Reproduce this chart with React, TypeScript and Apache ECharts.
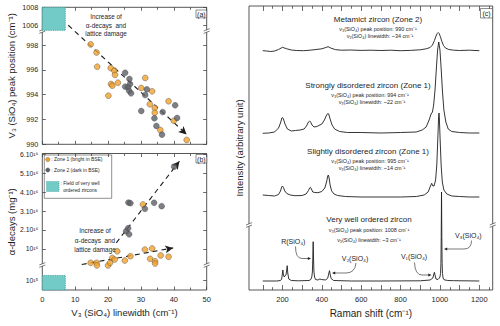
import React, { useEffect, useRef } from 'react';
import * as echarts from 'echarts';

const FONT = '"Liberation Sans", Arial, Helvetica, sans-serif';
const INK = '#1e1e1e';
const FRAME = '#444';
const ORANGE = '#F2A12A';
const GRAY = '#5B6066';
const TEAL = '#72CBC6';
const TEAL_EDGE = '#3E9C98';

// ---------- Panel (a): [V3 linewidth (cm-1), V3 peak position (cm-1)]
const zone1PeakPosition = [
  [14.7, 998.06], [16.5, 997.4], [16.7, 996.26], [20.8, 996.15], [21.9, 995.94],
  [22.1, 995.6], [23.0, 994.97], [20.9, 994.86], [21.3, 994.73], [20.1, 993.92],
  [31.3, 995.35], [30.1, 994.54], [33.4, 994.27], [32.7, 993.23], [34.2, 992.93],
  [34.2, 992.55], [38.4, 993.47], [40.0, 991.9], [35.9, 991.15], [43.9, 990.35],
];
const zone2PeakPosition = [
  [25.2, 995.77], [26.5, 995.27], [26.7, 994.86], [25.2, 994.65], [26.1, 994.6],
  [26.4, 994.32], [27.0, 994.11], [31.8, 994.43], [31.3, 993.97], [30.1, 992.69],
  [36.6, 992.6], [34.1, 992.1], [34.7, 991.48], [36.4, 990.78], [40.4, 993.15],
  [41.0, 992.12],
];
const trendA = [[7.9, 999.6], [43.9, 990.8]];
const aYTicks = [990, 992, 994, 996, 998, 1006, 1008];

// ---------- Panel (b): [V3 linewidth (cm-1), alpha-decays (x10^16 mg-1)]
const zone1AlphaDecays = [
  [14.7, 0.26], [16.5, 0.26], [16.6, 0.12], [20.0, 0.12], [20.6, 0.26], [21.3, 0.52],
  [22.0, 0.43], [22.8, 0.87], [25.1, 0.38], [26.8, 0.61], [31.2, 0.96], [33.4, 1.02],
  [32.8, 0.47], [34.3, 0.34], [34.3, 0.22], [36.0, 0.65], [38.4, 0.58], [30.6, 3.35],
];
const zone2AlphaDecays = [
  [26.2, 3.45], [26.8, 3.42], [25.5, 1.93], [26.1, 2.09], [26.4, 1.77],
  [31.2, 3.12], [34.0, 3.44], [36.3, 3.26], [40.1, 5.35],
];
const trendBZone2 = [[22.5, 1.32], [41.7, 5.64]];
const trendBZone1 = [[12.0, 0.17], [39.8, 1.05]];
const bYTicks = [0.1, 1, 2, 3, 4, 5, 6];
const bYTickLabels = ['10¹⁵', '10¹⁶', '2.10¹⁶', '3.10¹⁶', '4.10¹⁶', '5.10¹⁶', '6.10¹⁶'];

// Field of very well ordered zircons
const fieldLinewidth = [0, 7];
const fieldPeakPosition = [1005.4, 1008];
const fieldAlphaDecays = [0.017, 0.145];

const linewidthLabels = [0, 10, 20, 30, 40, 50];

// ---------- Panel (c): Raman spectra [shift (cm-1), intensity (offset, arbitrary)]
const metamictSpectrum = [
  [100, 239.3], [120, 239], [140, 238.5], [160, 239], [180, 240.5], [200, 242.7], [220, 241.3],
  [245, 240], [270, 239.5], [307, 239.3], [340, 239.8], [370, 240.5], [400, 241.2], [420, 242.5],
  [432, 243.3], [445, 242], [470, 240.3], [500, 239.8], [544, 240], [600, 239.6], [650, 239.8],
  [700, 239.5], [750, 239.8], [798, 239.3], [850, 239.6], [900, 240.2], [930, 241.2], [950, 242.5],
  [962, 245], [972, 249.5], [980, 254], [986, 256.5], [991, 257.5], [996, 256.5], [1002, 253.5],
  [1010, 248.5], [1018, 244.5], [1028, 242], [1045, 240.5], [1070, 239.8], [1100, 239.5],
  [1150, 239.8], [1200, 239.3],
];
const stronglyDisorderedSpectrum = [
  [100, 156.7], [130, 157], [160, 158], [180, 162], [190, 167], [197, 172], [200, 172.5],
  [205, 171], [213, 166], [225, 161], [245, 159], [265, 159.5], [290, 160], [310, 161],
  [322, 164], [332, 168], [338, 169], [343, 168], [350, 165], [360, 163], [375, 163.5],
  [385, 164.5], [400, 166], [413, 170], [422, 174], [430, 176.5], [435, 176], [442, 171],
  [452, 165], [465, 161], [490, 158.5], [530, 157.5], [600, 157.5], [700, 157], [800, 157.5],
  [880, 158], [910, 160], [930, 163], [945, 170], [955, 176], [962, 178], [968, 185],
  [975, 200], [982, 222], [988, 240], [994, 248], [1000, 240], [1006, 222], [1013, 198],
  [1020, 180], [1030, 168], [1042, 161], [1060, 158.5], [1100, 157.5], [1150, 157], [1200, 157],
];
const slightlyDisorderedSpectrum = [
  [100, 95], [130, 94.5], [160, 94], [180, 95.5], [190, 99], [196, 103], [200, 104],
  [205, 102.5], [212, 99], [222, 96.5], [240, 95], [263, 94.3], [300, 94.5], [320, 96],
  [332, 99.5], [338, 102], [342, 102.7], [347, 101], [354, 98], [365, 97.5], [380, 97.3],
  [400, 98.5], [415, 102], [424, 108], [430, 114], [433, 115], [437, 112], [442, 105],
  [450, 99], [462, 96], [480, 94.5], [520, 93.5], [600, 93], [700, 93], [800, 93],
  [880, 93.5], [920, 95], [940, 98], [952, 104], [958, 106.7], [964, 104], [970, 104],
  [978, 110], [984, 125], [989, 150], [993, 172], [995, 177], [997, 172], [1001, 150],
  [1006, 125], [1012, 108], [1020, 100], [1035, 96], [1060, 94], [1100, 93.5], [1150, 93],
  [1200, 93],
];
const wellOrderedSpectrum = [
  [100, 9], [170, 9], [190, 9.5], [196, 11], [200, 17], [202, 20], [205, 15], [209, 13],
  [214, 14.5], [218, 15], [221, 19], [224, 24.3], [227, 17], [232, 11], [245, 9.5],
  [280, 9.2], [335, 9.5], [344, 10.5], [349, 13], [352, 18], [354, 30], [356, 48.3],
  [358, 30], [360, 18], [363, 13], [368, 10.5], [380, 10], [390, 11], [393, 11.3],
  [397, 10.5], [420, 10], [430, 12], [436, 17], [439, 19.3], [442, 16], [447, 11.5],
  [460, 9.5], [550, 9], [700, 9], [900, 9.2], [950, 10], [964, 12], [969, 16], [972, 17.7],
  [975, 15], [980, 11], [990, 10.5], [995, 11.5], [1000, 13], [1003, 16.4], [1005, 26.8],
  [1006.5, 53.5], [1008, 98], [1009.5, 53.5], [1011, 26.8], [1013, 16.4], [1016, 12],
  [1021, 10.2], [1040, 9.5], [1070, 9.3], [1200, 9],
];
const ramanMajorTicks = [100, 200, 300, 400, 500, 600, 700, 800, 900, 1000, 1100, 1200];
const ramanMinorTicks = [150, 250, 350, 450, 550, 650, 750, 850, 950, 1050, 1150, 1250];
const ramanLabels = [200, 400, 600, 800, 1000, 1200];

// ---------- broken-axis mappings
const plotA = (v: number) => (v <= 1000 ? v : 999.62 + (v - 1006) * 0.715);
const plotBLow = (v: number) => -0.68 + (v - 0.1) * 6; // segment below the break
const plotBTick = (v: number) => (v < 0.15 ? plotBLow(v) : v);

const A_MIN = 990;
const A_MAX = plotA(1008);
const B_MIN = -1.18;
const B_MAX = 6.05;

const G0 = { left: 42.3, top: 7.3, width: 164.4, height: 137 };
const G1 = { left: 42.3, top: 153.5, width: 164.4, height: 136.5 };
const G2 = { left: 249, top: 6, width: 243.7, height: 284 };

const tickStyle = { color: FRAME, width: 0.8 };
const labelStyle = { fontFamily: FONT, fontSize: 7.2, color: INK };
const nameStyle = { fontFamily: FONT, fontSize: 9.5, color: INK };
const noLine = { show: false, onZero: false };

function txt(x: number, y: number, text: string, fontSize: number, extra: any = {}) {
  return {
    type: 'text', x, y, z: 50,
    style: { text, fontSize, fontFamily: FONT, fill: INK, align: 'center', verticalAlign: 'middle', ...extra },
  };
}

function brk(x: number, y: number) {
  return {
    type: 'group', z: 100,
    children: [
      { type: 'polygon', shape: { points: [[x - 3, y], [x + 3, y - 2.4], [x + 3, y], [x - 3, y + 2.4]] }, style: { fill: '#fff' } },
      { type: 'line', shape: { x1: x - 3, y1: y, x2: x + 3, y2: y - 2.4 }, style: { stroke: FRAME, lineWidth: 0.7 } },
      { type: 'line', shape: { x1: x - 3, y1: y + 2.4, x2: x + 3, y2: y }, style: { stroke: FRAME, lineWidth: 0.7 } },
    ],
  };
}

function panelTag(x: number, y: number, w: number, h: number, label: string) {
  return {
    type: 'group', z: 60,
    children: [
      { type: 'rect', shape: { x, y, width: w, height: h }, style: { fill: '#fff', stroke: FRAME, lineWidth: 0.6 } },
      txt(x + w / 2, y + h / 2 + 0.3, label, 7),
    ],
  };
}

function curvedArrow(x1: number, y1: number, cx: number, cy: number, x2: number, y2: number, tipX: number) {
  const dir = tipX > x2 ? 1 : -1;
  return {
    type: 'group', z: 55,
    children: [
      { type: 'bezierCurve', shape: { x1, y1, x2, y2, cpx1: cx, cpy1: cy }, style: { stroke: INK, lineWidth: 0.6, fill: 'none' } },
      { type: 'line', shape: { x1: x2, y1: y2, x2: tipX - dir * 2.5, y2 }, style: { stroke: INK, lineWidth: 0.6 } },
      { type: 'polygon', shape: { points: [[tipX, y2], [tipX - dir * 3.2, y2 - 1.4], [tipX - dir * 3.2, y2 + 1.4]] }, style: { fill: INK } },
    ],
  };
}

function arrowLine(pts: number[][], mapY: (v: number) => number) {
  return [[{ coord: [pts[0][0], mapY(pts[0][1])] }, { coord: [pts[1][0], mapY(pts[1][1])] }]];
}

function buildOption(): any {
  const id = (v: number) => v;
  const dashed = { type: [5, 4], color: INK, width: 1.1 };
  const markLineBase = { silent: true, symbol: ['none', 'arrow'], symbolSize: [6, 8], label: { show: false }, lineStyle: dashed, emphasis: { disabled: true } };
  const fieldArea = (yLo: number, yHi: number) => ({
    silent: true,
    itemStyle: { color: TEAL, borderColor: TEAL_EDGE, borderType: 'dotted', borderWidth: 0.9, opacity: 1 },
    label: { show: false },
    data: [[{ coord: [fieldLinewidth[0], yLo] }, { coord: [fieldLinewidth[1], yHi] }]],
  });
  const scatterStyle = (color: string) => ({ color, borderColor: '#444', borderWidth: 0.5 });

  const xLinewidth = (gridIndex: number, position: string, labels: boolean, extra: any = {}) => ({
    type: 'value', gridIndex, position, min: 0, max: 50, interval: 10,
    axisLine: noLine, splitLine: { show: false },
    axisTick: { show: true, inside: true, length: 3.5, lineStyle: tickStyle },
    minorTick: { show: true, splitNumber: 2, length: 2.5, lineStyle: tickStyle },
    axisLabel: labels ? { ...labelStyle, fontSize: 7.5, margin: 5, customValues: linewidthLabels } : { show: false },
    ...extra,
  });
  const xRaman = (position: string, ticks: number[], len: number, labels: boolean, extra: any = {}) => ({
    type: 'value', gridIndex: 2, position, min: 30, max: 1268,
    axisLine: noLine, splitLine: { show: false },
    axisTick: { show: true, inside: true, length: len, lineStyle: tickStyle, customValues: ticks },
    axisLabel: labels
      ? { ...labelStyle, fontSize: 7.5, margin: 5, customValues: ramanLabels, formatter: (v: number) => String(v) }
      : { show: false },
    ...extra,
  });

  const aTickVals = aYTicks.map(plotA);
  const bTickVals = bYTicks.map(plotBTick);

  return {
    animation: false,
    backgroundColor: '#fff',
    grid: [G0, G1, G2].map((g) => ({ ...g, show: true, borderColor: FRAME, borderWidth: 0.9, backgroundColor: 'transparent' })),
    xAxis: [
      xLinewidth(0, 'bottom', false),
      xLinewidth(0, 'top', false),
      xLinewidth(1, 'bottom', true, {
        name: 'V₃ (SiO₄) linewidth (cm⁻¹)', nameLocation: 'middle', nameGap: 17, nameTextStyle: nameStyle,
      }),
      xLinewidth(1, 'top', false),
      xRaman('bottom', ramanMajorTicks, 5, true, {
        name: 'Raman shift (cm⁻¹)', nameLocation: 'middle', nameGap: 18, nameTextStyle: { ...nameStyle, fontSize: 10 },
      }),
      xRaman('bottom', ramanMinorTicks, 2.8, false),
      xRaman('top', ramanMajorTicks, 5, false),
      xRaman('top', ramanMinorTicks, 2.8, false),
    ],
    yAxis: [
      {
        type: 'value', gridIndex: 0, position: 'left', min: A_MIN, max: A_MAX,
        axisLine: noLine, splitLine: { show: false },
        axisTick: { show: true, inside: true, length: 3.5, lineStyle: tickStyle, customValues: aTickVals },
        axisLabel: {
          ...labelStyle, margin: 4, customValues: aTickVals,
          formatter: (val: number) => {
            const i = aTickVals.findIndex((t) => Math.abs(t - val) < 1e-6);
            return i >= 0 ? String(aYTicks[i]) : '';
          },
        },
        name: 'V₃ (SiO₄) peak position (cm⁻¹)', nameLocation: 'middle', nameGap: 26, nameRotate: 90,
        nameTextStyle: nameStyle,
      },
      {
        type: 'value', gridIndex: 0, position: 'right', min: A_MIN, max: A_MAX,
        axisLine: noLine, splitLine: { show: false },
        axisTick: { show: true, inside: true, length: 3.5, lineStyle: tickStyle, customValues: aTickVals },
        axisLabel: { show: false },
      },
      {
        type: 'value', gridIndex: 1, position: 'left', min: B_MIN, max: B_MAX,
        axisLine: noLine, splitLine: { show: false },
        axisTick: { show: true, inside: true, length: 3.5, lineStyle: tickStyle, customValues: bTickVals },
        axisLabel: {
          ...labelStyle, fontSize: 6.8, margin: 4, customValues: bTickVals,
          formatter: (val: number) => {
            const i = bTickVals.findIndex((t) => Math.abs(t - val) < 1e-6);
            return i >= 0 ? bYTickLabels[i] : '';
          },
        },
        name: 'α-decays (mg⁻¹)', nameLocation: 'middle', nameGap: 26, nameRotate: 90,
        nameTextStyle: nameStyle,
      },
      {
        type: 'value', gridIndex: 1, position: 'right', min: B_MIN, max: B_MAX,
        axisLine: noLine, splitLine: { show: false },
        axisTick: { show: true, inside: true, length: 3.5, lineStyle: tickStyle, customValues: bTickVals },
        axisLabel: { show: false },
      },
      {
        type: 'value', gridIndex: 2, position: 'left', min: 0, max: 284,
        axisLine: noLine, splitLine: { show: false }, axisTick: { show: false }, axisLabel: { show: false },
        name: 'Intensity (arbitrary unit)', nameLocation: 'middle', nameGap: 5, nameRotate: 90,
        nameTextStyle: nameStyle,
      },
    ],
    series: [
      {
        type: 'scatter', name: 'Zone 1 (a)', xAxisIndex: 0, yAxisIndex: 0, z: 5,
        symbolSize: 5.8, itemStyle: scatterStyle(ORANGE),
        data: zone1PeakPosition.map(([x, y]) => [x, plotA(y)]),
        markArea: fieldArea(plotA(fieldPeakPosition[0]), plotA(fieldPeakPosition[1])),
        markLine: { ...markLineBase, data: arrowLine(trendA, plotA) },
      },
      {
        type: 'scatter', name: 'Zone 2 (a)', xAxisIndex: 0, yAxisIndex: 0, z: 5,
        symbolSize: 5.8, itemStyle: scatterStyle(GRAY),
        data: zone2PeakPosition.map(([x, y]) => [x, plotA(y)]),
      },
      {
        type: 'scatter', name: 'Zone 1 (b)', xAxisIndex: 2, yAxisIndex: 2, z: 5,
        symbolSize: 5.8, itemStyle: scatterStyle(ORANGE),
        data: zone1AlphaDecays,
        markArea: fieldArea(plotBLow(fieldAlphaDecays[0]), plotBLow(fieldAlphaDecays[1])),
        markLine: { ...markLineBase, data: arrowLine(trendBZone1, id) },
      },
      {
        type: 'scatter', name: 'Zone 2 (b)', xAxisIndex: 2, yAxisIndex: 2, z: 5,
        symbolSize: 5.8, itemStyle: scatterStyle(GRAY),
        data: zone2AlphaDecays,
        markLine: { ...markLineBase, data: arrowLine(trendBZone2, id) },
      },
      ...[metamictSpectrum, stronglyDisorderedSpectrum, slightlyDisorderedSpectrum, wellOrderedSpectrum].map((d, i) => ({
        type: 'line', name: 'spectrum' + i, xAxisIndex: 4, yAxisIndex: 4, showSymbol: false, silent: true,
        lineStyle: { color: INK, width: 0.9 }, data: d, z: 3,
      })),
    ],
    graphic: [
      // panel (a)
      txt(106, 25, 'Increase of\nα-decays  and\nlattice damage', 6.4, { lineHeight: 8.3 }),
      panelTag(196, 10, 10.7, 7.8, '(a)'),
      brk(G0.left, 31), brk(G0.left + G0.width, 31),
      // panel (b)
      txt(95, 240, 'Increase of\nα-decays  and\nlattice damage', 6.4, { lineHeight: 9.2 }),
      panelTag(196, 154.5, 10.7, 8.5, '(b)'),
      brk(G1.left, 265), brk(G1.left + G1.width, 265),
      {
        type: 'group', z: 60,
        children: [
          { type: 'rect', shape: { x: 44.3, y: 155, width: 67.4, height: 43.3 }, style: { fill: '#fff', stroke: FRAME, lineWidth: 0.6 } },
          { type: 'circle', shape: { cx: 47.8, cy: 159.5, r: 2.1 }, style: { fill: ORANGE, stroke: '#444', lineWidth: 0.4 } },
          txt(51.3, 159.5, ': Zone 1 (bright in BSE)', 4.9, { align: 'left' }),
          { type: 'circle', shape: { cx: 47.8, cy: 170, r: 2.1 }, style: { fill: GRAY, stroke: '#444', lineWidth: 0.4 } },
          txt(51.3, 170, ': Zone 2 (dark in BSE)', 4.9, { align: 'left' }),
          { type: 'rect', shape: { x: 46.5, y: 181.5, width: 12.5, height: 10 }, style: { fill: TEAL, stroke: TEAL_EDGE, lineWidth: 0.7, lineDash: [1, 1] } },
          txt(60.5, 186.5, ': Field of very well\n  ordered zircons', 4.9, { align: 'left', lineHeight: 7 }),
        ],
      },
      // panel (c)
      panelTag(480.5, 8.5, 12, 9.5, '(c)'),
      brk(G2.left, 225), brk(G2.left + G2.width, 225),
      txt(378, 19, 'Metamict zircon (Zone 2)', 8),
      txt(378, 28.7, 'ν₃(SiO₄) peak position: 990 cm⁻¹', 5.4),
      txt(380, 35.5, 'ν₃(SiO₄) linewidth: ~34 cm⁻¹', 5.4),
      txt(368, 85.3, 'Strongly disordered zircon (Zone 1)', 8),
      txt(370, 94.5, 'ν₃(SiO₄) peak position: 994 cm⁻¹', 5.4),
      txt(372, 101.5, 'ν₃(SiO₄) linewidth: ~22 cm⁻¹', 5.4),
      txt(368, 151.7, 'Slightly disordered zircon (Zone 1)', 8),
      txt(370, 161, 'ν₃(SiO₄) peak position: 995 cm⁻¹', 5.4),
      txt(372, 168.2, 'ν₃(SiO₄) linewidth: ~14 cm⁻¹', 5.4),
      txt(369, 219.3, 'Very well ordered zircon', 8),
      txt(369, 229.7, 'ν₃(SiO₄) peak position: 1008 cm⁻¹', 5.4),
      txt(369, 239.5, 'ν₃(SiO₄) linewidth: ~3 cm⁻¹', 5.4),
      txt(293.3, 241, 'R(SiO₄)', 7),
      txt(355, 258, 'V₂(SiO₄)', 7),
      txt(414, 256.7, 'V₁(SiO₄)', 7),
      txt(468.3, 235, 'V₃(SiO₄)', 7),
      curvedArrow(295.5, 246.5, 295.5, 258.5, 302, 258.5, 311),
      curvedArrow(356, 263, 355, 273, 346, 273, 332),
      curvedArrow(414.5, 262.5, 415, 275, 422, 275, 431.5),
      curvedArrow(471.5, 240.5, 471.5, 249, 464, 249, 444),
    ],
  };
}

export default function App() {
  const ref = useRef<HTMLDivElement>(null);
  useEffect(() => {
    if (!ref.current) return;
    const chart = echarts.init(ref.current, null, { renderer: 'svg' });
    chart.setOption(buildOption());
    return () => chart.dispose();
  }, []);
  return (
    <div
      ref={ref}
      style={{ position: 'fixed', left: 0, top: 0, width: 500, height: 326, background: '#fff' }}
    />
  );
}
